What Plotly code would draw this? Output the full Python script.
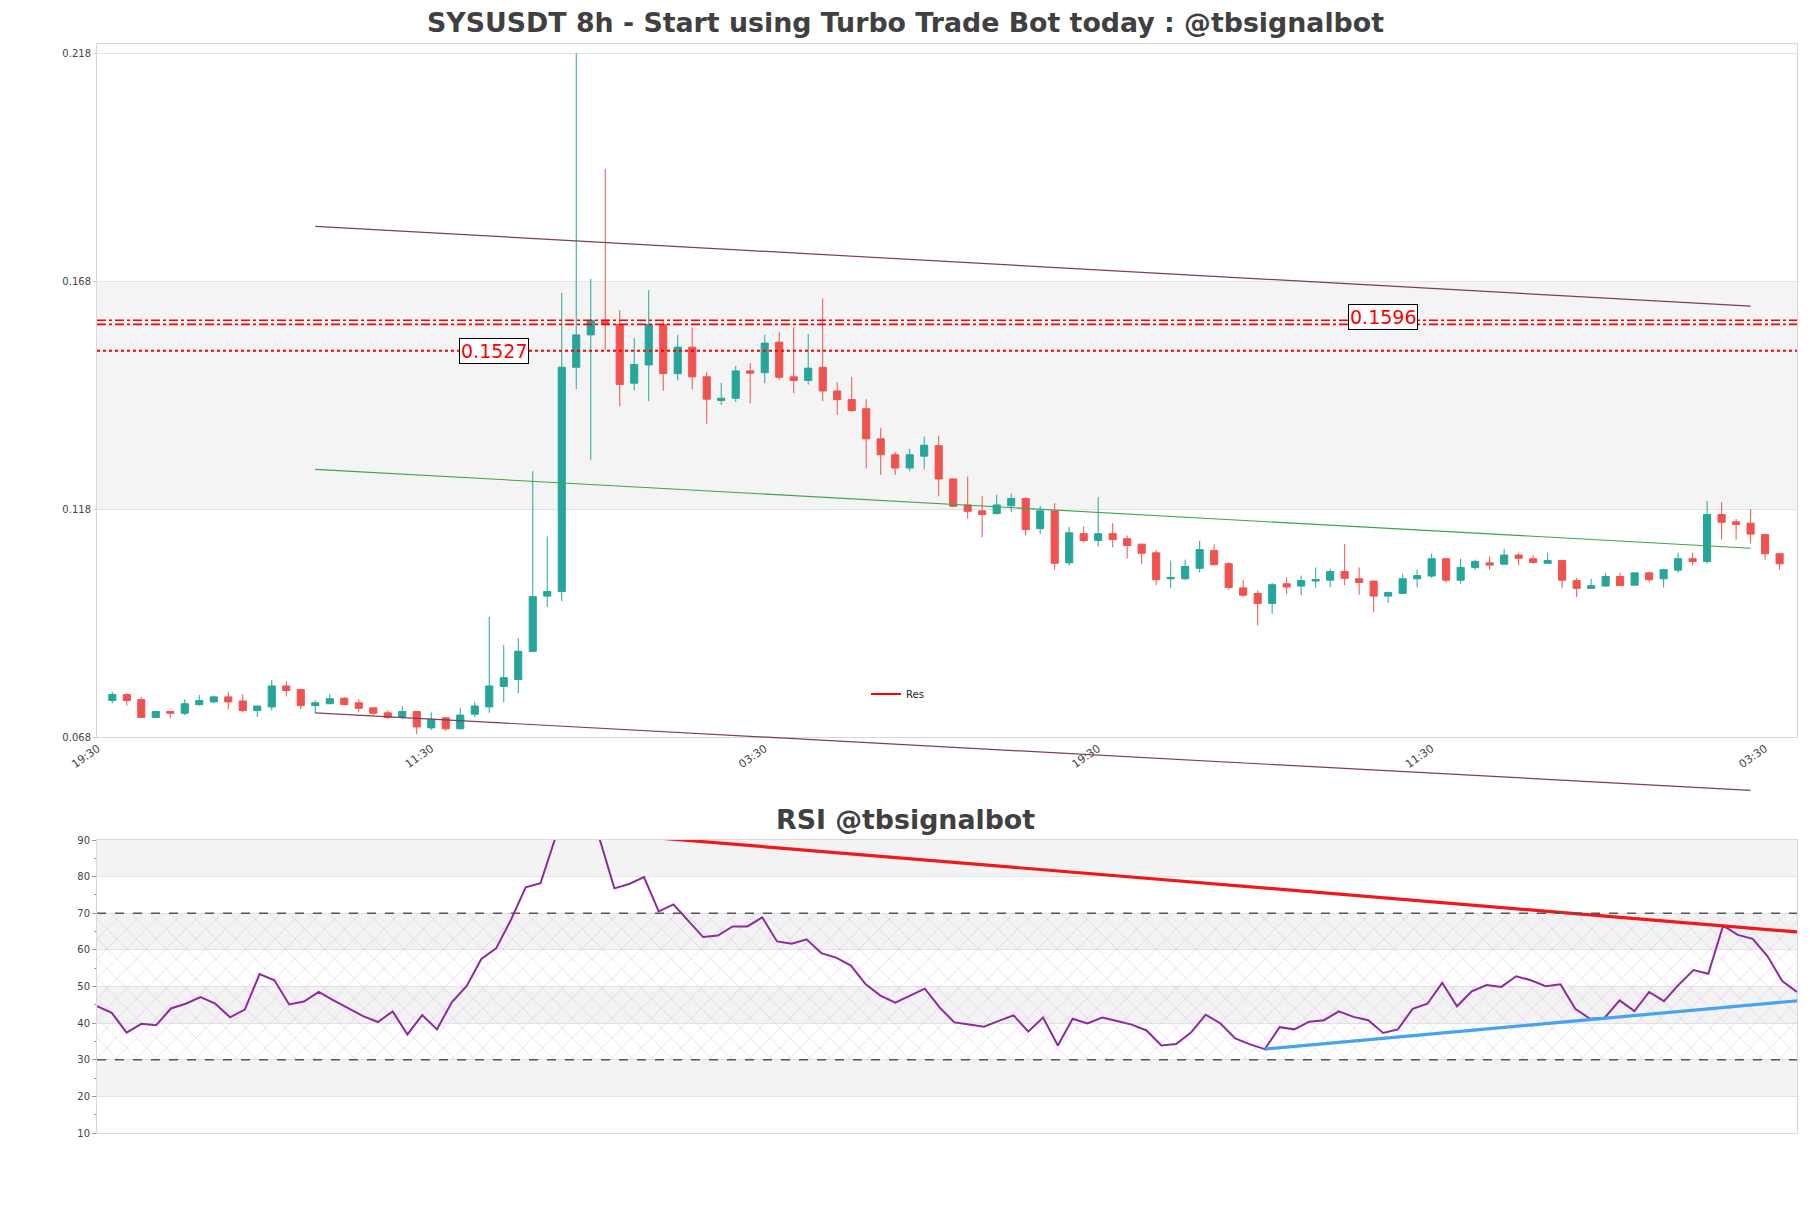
import pandas as pd
import plotly.graph_objects as go

# ---------------- data ----------------
start_time = "2024-01-10 03:30"
n_candles = 116
open_ = [0.0760,0.0773,0.0762,0.0723,0.0736,0.0732,0.0751,0.0757,0.0768,0.0759,
         0.0738,0.0746,0.0792,0.0784,0.0749,0.0753,0.0765,0.0755,0.0744,0.0733,
         0.0723,0.0736,0.0700,0.0722,0.0698,0.0730,0.0746,0.0791,0.0806,0.0868,
         0.0989,0.0999,0.1491,0.1562,0.1594,0.1585,0.1456,0.1496,0.1585,0.1477,
         0.1535,0.1470,0.1418,0.1423,0.1483,0.1479,0.1546,0.1470,0.1462,0.1491,
         0.1439,0.1420,0.1400,0.1334,0.1299,0.1270,0.1296,0.1319,0.1246,0.1189,
         0.1176,0.1170,0.1187,0.1203,0.1137,0.1176,0.1062,0.1126,0.1111,0.1126,
         0.1115,0.1103,0.1084,0.1027,0.1027,0.1050,0.1089,0.1060,0.1007,0.0995,
         0.0973,0.1016,0.1011,0.1022,0.1024,0.1043,0.1027,0.1022,0.0989,0.0995,
         0.1027,0.1033,0.1071,0.1024,0.1052,0.1062,0.1059,0.1079,0.1071,0.1061,
         0.1067,0.1023,0.1006,0.1011,0.1032,0.1013,0.1040,0.1027,0.1046,0.1071,
         0.1065,0.1168,0.1152,0.1149,0.1124,0.1082]
high = [0.0779,0.0776,0.0768,0.0737,0.0737,0.0763,0.0772,0.0771,0.0779,0.0774,
        0.0748,0.0805,0.0803,0.0786,0.0760,0.0774,0.0768,0.0763,0.0744,0.0739,
        0.0748,0.0736,0.0734,0.0723,0.0744,0.0757,0.0944,0.0882,0.0897,0.1263,
        0.1120,0.1654,0.2180,0.1685,0.1926,0.1616,0.1555,0.1660,0.1595,0.1562,
        0.1578,0.1481,0.1457,0.1494,0.1500,0.1562,0.1569,0.1579,0.1564,0.1642,
        0.1458,0.1470,0.1421,0.1358,0.1305,0.1312,0.1339,0.1341,0.1247,0.1251,
        0.1208,0.1211,0.1214,0.1206,0.1187,0.1193,0.1141,0.1142,0.1206,0.1149,
        0.1122,0.1103,0.1091,0.1067,0.1069,0.1110,0.1103,0.1064,0.1025,0.1001,
        0.1018,0.1030,0.1034,0.1052,0.1049,0.1103,0.1052,0.1022,0.0999,0.1038,
        0.1047,0.1082,0.1073,0.1071,0.1069,0.1076,0.1093,0.1084,0.1079,0.1084,
        0.1069,0.1029,0.1027,0.1040,0.1040,0.1040,0.1043,0.1049,0.1084,0.1084,
        0.1198,0.1195,0.1158,0.1180,0.1126,0.1082]
low = [0.0754,0.0749,0.0723,0.0723,0.0721,0.0728,0.0749,0.0754,0.0741,0.0734,
       0.0724,0.0738,0.0769,0.0741,0.0732,0.0752,0.0749,0.0734,0.0728,0.0719,
       0.0719,0.0686,0.0695,0.0693,0.0697,0.0723,0.0733,0.0756,0.0776,0.0866,
       0.0965,0.0978,0.1443,0.1288,0.1529,0.1405,0.1440,0.1417,0.1439,0.1462,
       0.1443,0.1367,0.1408,0.1415,0.1412,0.1456,0.1464,0.1434,0.1453,0.1417,
       0.1386,0.1394,0.1269,0.1255,0.1255,0.1263,0.1267,0.1208,0.1184,0.1159,
       0.1118,0.1168,0.1173,0.1122,0.1125,0.1047,0.1056,0.1106,0.1098,0.1096,
       0.1071,0.1059,0.1013,0.1006,0.1024,0.1041,0.1056,0.1003,0.0987,0.0925,
       0.0950,0.0993,0.0991,0.1007,0.1009,0.1013,0.0992,0.0954,0.0974,0.0994,
       0.1008,0.1029,0.1019,0.1016,0.1046,0.1047,0.1057,0.1057,0.1060,0.1060,
       0.1006,0.0987,0.1006,0.1011,0.1012,0.1013,0.1019,0.1008,0.1040,0.1057,
       0.1060,0.1113,0.1113,0.1104,0.1069,0.1047]
close = [0.0773,0.0760,0.0723,0.0736,0.0732,0.0753,0.0760,0.0768,0.0757,0.0738,
         0.0748,0.0792,0.0782,0.0749,0.0755,0.0764,0.0751,0.0743,0.0732,0.0723,
         0.0736,0.0702,0.0719,0.0698,0.0728,0.0748,0.0792,0.0810,0.0868,0.0988,
         0.0999,0.1491,0.1562,0.1594,0.1585,0.1453,0.1497,0.1585,0.1477,0.1535,
         0.1470,0.1421,0.1423,0.1483,0.1478,0.1544,0.1469,0.1462,0.1489,0.1439,
         0.1420,0.1396,0.1334,0.1299,0.1270,0.1299,0.1320,0.1246,0.1186,0.1175,
         0.1168,0.1189,0.1203,0.1135,0.1176,0.1061,0.1128,0.1111,0.1126,0.1113,
         0.1100,0.1083,0.1025,0.1030,0.1054,0.1091,0.1058,0.1008,0.0991,0.0973,
         0.1014,0.1009,0.1023,0.1025,0.1043,0.1028,0.1019,0.0989,0.0997,0.1027,
         0.1034,0.1071,0.1024,0.1052,0.1065,0.1057,0.1079,0.1072,0.1063,0.1067,
         0.1024,0.1006,0.1012,0.1032,0.1012,0.1040,0.1025,0.1047,0.1071,0.1065,
         0.1168,0.1151,0.1146,0.1125,0.1082,0.1060]
rsi = [44.6,42.8,37.4,39.8,39.4,44.0,45.3,47.1,45.3,41.6,
       43.7,53.4,51.7,45.1,45.9,48.5,46.2,44.1,41.9,40.3,
       43.2,36.9,42.2,38.3,45.7,50.1,57.5,60.4,68.2,77.1,
       78.2,90.5,92.0,92.2,90.3,76.8,78.0,79.9,70.5,72.4,
       68.0,63.5,63.9,66.4,66.4,68.9,62.3,61.7,62.9,59.1,
       57.9,55.7,50.6,47.5,45.6,47.5,49.4,44.3,40.2,39.6,
       39.0,40.6,42.1,37.7,41.5,33.9,41.2,39.9,41.5,40.6,
       39.6,38.0,33.9,34.3,37.4,42.3,39.9,35.8,34.2,32.9,
       38.9,38.3,40.4,40.8,43.2,41.7,40.8,37.3,38.3,43.9,
       45.3,51.0,44.6,48.7,50.4,49.9,52.8,51.7,50.1,50.6,
       43.9,41.2,41.5,46.2,43.3,48.5,46.0,50.5,54.5,53.5,
       66.6,64.1,63.0,58.3,51.5,48.5]

# trend lines on price: (start index, end index), (start price, end price)
upper_chan_idx = [14, 113]; upper_chan_val = [0.1800, 0.1625]
lower_chan_idx = [14, 113]; lower_chan_val = [0.0733, 0.0563]
mid_line_idx = [14, 113];   mid_line_val = [0.1267, 0.1094]
res_level = 0.1527
res_zone_levels = [0.1594, 0.1585]
res_label_main = "0.1527"
res_label_zone = "0.1596"
# RSI trend lines
rsi_res_idx = [33, 115]; rsi_res_val = [92.2, 64.9]
rsi_sup_idx = [79, 115]; rsi_sup_val = [32.9, 46.1]

price_ticks = [0.068, 0.118, 0.168, 0.218]
price_band = [0.118, 0.168]
rsi_ticks = [10, 20, 30, 40, 50, 60, 70, 80, 90]
rsi_bands = [[20, 30], [40, 50], [60, 70], [80, 90]]
rsi_levels = [30, 70]

title_main = "SYSUSDT 8h - Start using Turbo Trade Bot today : @tbsignalbot"
title_rsi = "RSI @tbsignalbot"

# ---------------- build ----------------
step = pd.Timedelta(hours=8)
t0 = pd.Timestamp(start_time)
times = [t0 + step * i for i in range(n_candles)]
def at(i):
    return t0 + step * i

GREEN = "#26a69a"
RED = "#ef5350"
FONT = "DejaVu Sans"
W, H = 1811, 1208
ML, MR, MT, MB = 97, 14, 44, 75
plot_h = H - MT - MB
plot_w = W - ML - MR
def py(px):  # pixel y (from top) -> paper fraction
    return (H - MB - px) / plot_h
def px_(x):  # pixel x -> paper fraction
    return (x - ML) / plot_w

main_dom = [py(737), 1.0]
rsi_dom = [0.0, py(840)]
ext_dom = [py(800), 1.0]
y_range = [0.068, 0.22]
scale = (y_range[1] - y_range[0]) / (main_dom[1] - main_dom[0])
ext_range = [y_range[0] - (main_dom[0] - ext_dom[0]) * scale, y_range[1]]

fig = go.Figure()

fig.add_trace(go.Candlestick(
    x=times, open=open_, high=high, low=low, close=close,
    increasing=dict(line=dict(color=GREEN, width=1), fillcolor=GREEN),
    decreasing=dict(line=dict(color=RED, width=1), fillcolor=RED),
    whiskerwidth=0, showlegend=False, xaxis="x", yaxis="y"))

line_col = "#7d3f58"
fig.add_trace(go.Scatter(x=[at(i) for i in upper_chan_idx], y=upper_chan_val, mode="lines",
                         line=dict(color=line_col, width=1.2), showlegend=False, xaxis="x", yaxis="y"))
fig.add_trace(go.Scatter(x=[at(i) for i in mid_line_idx], y=mid_line_val, mode="lines",
                         line=dict(color="#3aa64a", width=1.1), showlegend=False, xaxis="x", yaxis="y"))
fig.add_trace(go.Scatter(x=[at(i) for i in lower_chan_idx], y=lower_chan_val, mode="lines",
                         line=dict(color=line_col, width=1.2), showlegend=False, xaxis="x", yaxis="y3"))

x_lo = t0 - step * 1.055
x_hi = t0 + step * 116.2
for lvl in res_zone_levels:
    fig.add_trace(go.Scatter(x=[x_lo, x_hi], y=[lvl, lvl], mode="lines",
                             line=dict(color="red", width=1.6, dash="dashdot"),
                             showlegend=False, xaxis="x", yaxis="y"))
fig.add_trace(go.Scatter(x=[x_lo, x_hi], y=[res_level, res_level], mode="lines",
                         line=dict(color="red", width=2, dash="dot"),
                         showlegend=False, xaxis="x", yaxis="y"))
fig.add_trace(go.Scatter(x=[None], y=[None], mode="lines", name="Res",
                         line=dict(color="red", width=2), showlegend=True, xaxis="x", yaxis="y"))

# RSI panel
fig.add_trace(go.Scatter(x=[times[0], times[-1], times[-1], times[0], times[0]],
                         y=[rsi_levels[0], rsi_levels[0], rsi_levels[1], rsi_levels[1], rsi_levels[0]],
                         fill="toself", mode="lines", line=dict(width=0),
                         fillcolor="rgba(0,0,0,0)",
                         fillpattern=dict(shape="x", fgcolor="rgba(190,140,210,0.75)",
                                          bgcolor="rgba(0,0,0,0)", size=14, solidity=0.1),
                         hoverinfo="skip", showlegend=False, xaxis="x2", yaxis="y2"))
fig.add_trace(go.Scatter(x=times, y=rsi, mode="lines", line=dict(color="#8e2a9e", width=2),
                         showlegend=False, xaxis="x2", yaxis="y2"))
fig.add_trace(go.Scatter(x=[at(i) for i in rsi_res_idx], y=rsi_res_val, mode="lines",
                         line=dict(color="#f01818", width=3.2), showlegend=False, xaxis="x2", yaxis="y2"))
fig.add_trace(go.Scatter(x=[at(i) for i in rsi_sup_idx], y=rsi_sup_val, mode="lines",
                         line=dict(color="#45a3f0", width=3.2), showlegend=False, xaxis="x2", yaxis="y2"))

shapes = []
shapes.append(dict(type="rect", xref="x domain", yref="y", x0=0, x1=1,
                   y0=price_band[0], y1=price_band[1], fillcolor="#f4f4f4",
                   line=dict(width=0), layer="below"))
for b in rsi_bands:
    shapes.append(dict(type="rect", xref="x2 domain", yref="y2", x0=0, x1=1, y0=b[0], y1=b[1],
                       fillcolor="#f3f3f4", line=dict(width=0), layer="below"))
for lv in rsi_levels:
    shapes.append(dict(type="line", xref="x2 domain", yref="y2", x0=0, x1=1, y0=lv, y1=lv,
                       line=dict(color="#555555", width=1.4, dash="dash"), layer="above"))

annotations = [
    dict(x=at(26), y=res_level, xref="x", yref="y", text=res_label_main, showarrow=False,
         font=dict(family=FONT, size=19, color="red"), bgcolor="white",
         bordercolor="black", borderwidth=1, borderpad=1, xshift=5),
    dict(x=at(87), y=0.1601, xref="x", yref="y", text=res_label_zone, showarrow=False,
         font=dict(family=FONT, size=19, color="red"), bgcolor="white",
         bordercolor="black", borderwidth=1, borderpad=1, xshift=9),
    dict(x=px_(W / 2), y=py(820), xref="paper", yref="paper", text=title_rsi, showarrow=False,
         font=dict(family=FONT, size=26.8, color="#404040", weight="bold"),
         xanchor="center", yanchor="middle"),
]

axis_line = "#d8d8d8"
grid_col = "#e3e3e3"
tick_font = dict(family=FONT, size=10, color="#444444")

fig.update_layout(
    width=W, height=H,
    margin=dict(l=ML, r=MR, t=MT, b=MB),
    paper_bgcolor="white", plot_bgcolor="rgba(0,0,0,0)",
    title=dict(text=title_main, x=0.5, xanchor="center", y=1 - 23 / H, yanchor="middle",
               font=dict(family=FONT, size=26.8, color="#404040", weight="bold")),
    showlegend=True,
    legend=dict(x=px_(866), y=py(694), xanchor="left", yanchor="middle",
                bgcolor="rgba(0,0,0,0)", font=dict(family=FONT, size=10, color="#222222"),
                itemwidth=30),
    shapes=shapes, annotations=annotations,
    xaxis=dict(domain=[0, 1], anchor="y", type="date", range=[x_lo, x_hi],
               tick0=t0 - step, dtick=23 * 8 * 3600 * 1000, tickformat="%H:%M",
               tickangle=-35, tickfont=dict(family=FONT, size=11, color="#444444"),
               showgrid=False, zeroline=False,
               showline=True, mirror=True, linecolor=axis_line, ticks="",
               rangeslider=dict(visible=False)),
    yaxis=dict(domain=main_dom, anchor="x", range=y_range, tickvals=price_ticks,
               tickformat=".3f", tickfont=tick_font, showgrid=True, gridcolor=grid_col,
               zeroline=False, showline=True, mirror=True, linecolor=axis_line,
               ticks="outside", ticklen=3, tickcolor="#cccccc"),
    yaxis3=dict(domain=ext_dom, anchor="x", range=ext_range, visible=False, showgrid=False),
    xaxis2=dict(domain=[0, 1], anchor="y2", type="date", range=[times[0], times[-1]],
                showticklabels=False, showgrid=False, zeroline=False, showline=True,
                mirror=True, linecolor=axis_line, ticks=""),
    yaxis2=dict(domain=rsi_dom, anchor="x2", range=[10, 90], tickvals=rsi_ticks,
                tickfont=tick_font, showgrid=True, gridcolor=grid_col, zeroline=False,
                showline=True, mirror=True, linecolor=axis_line,
                ticks="outside", ticklen=4, tickcolor="#999999",
                minor=dict(ticks="outside", dtick=5, ticklen=2, tickcolor="#999999")),
)

fig.write_html("out.html")
